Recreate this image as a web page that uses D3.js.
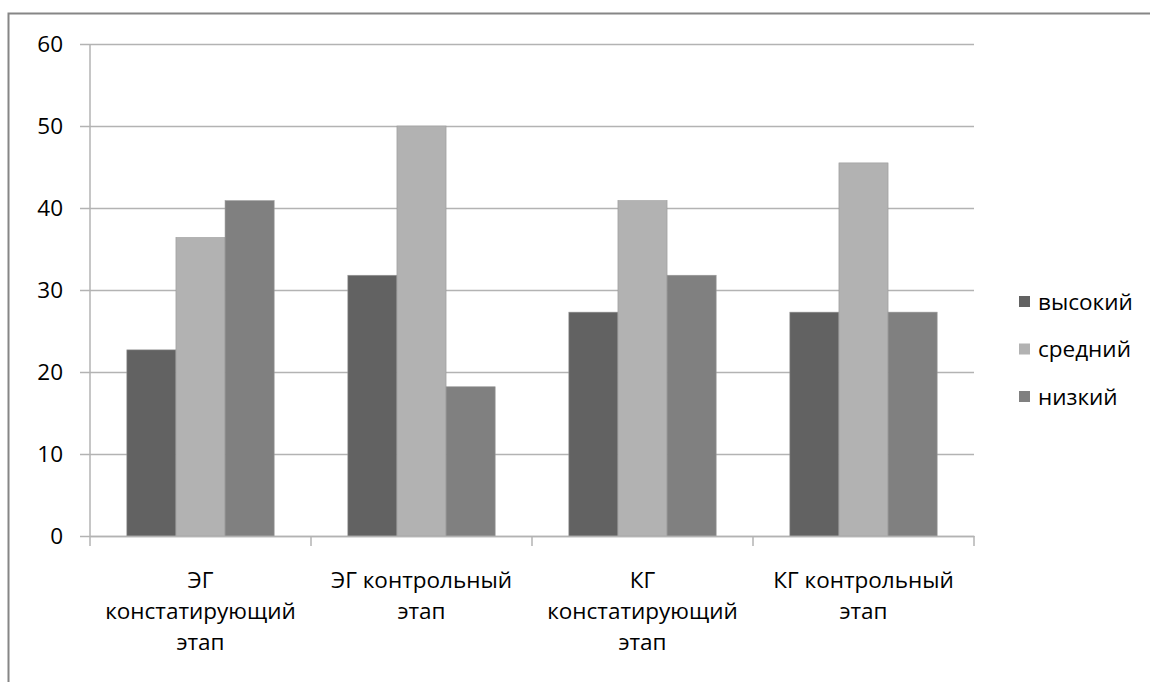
<!DOCTYPE html>
<html>
<head>
<meta charset="utf-8">
<script src="https://cdn.jsdelivr.net/npm/d3@7"></script>
<style>
  body { margin: 0; background: #fff; }
  svg text { font-family: "Open Sans", sans-serif; fill: #000; }
</style>
</head>
<body>
<div id="chart"></div>
<script>
const categories = [
  "ЭГ констатирующий этап",
  "ЭГ контрольный этап",
  "КГ констатирующий этап",
  "КГ контрольный этап"
];
const seriesNames = ["высокий", "средний", "низкий"];
const vysokiy = [22.7, 31.8, 27.3, 27.3];
const sredniy = [36.4, 50, 40.9, 45.5];
const nizkiy = [40.9, 18.2, 31.8, 27.3];
const yTicks = [0, 10, 20, 30, 40, 50, 60];
const colors = ["#626262", "#b2b2b2", "#808080"];

const width = 1150, height = 682;
const plotLeft = 90, plotRight = 974, plotTop = 44, plotBottom = 536;
const fontSize = "22.5px";

const svg = d3.select("#chart").append("svg")
  .attr("width", width)
  .attr("height", height);

// outer chart border (only top and left are visible)
svg.append("path")
  .attr("d", `M8.5,${height} L8.5,13.5 L${width},13.5`)
  .attr("fill", "none")
  .attr("stroke", "#868686")
  .attr("stroke-width", 2);

let x = d3.scaleBand().domain(categories).range([plotLeft, plotRight]);
let xInner = d3.scaleBand().domain(seriesNames)
  .range([0, x.bandwidth()])
  .paddingOuter(0.75);
let y = d3.scaleLinear().domain([0, 60]).range([plotBottom, plotTop]);

// gridlines + y axis
let yAxis = d3.axisLeft(y)
  .tickValues(yTicks)
  .tickSize(-(plotRight - plotLeft))
  .tickSizeOuter(0)
  .tickPadding(27);
let gy = svg.append("g")
  .attr("transform", `translate(${plotLeft},0)`)
  .call(yAxis);
gy.select(".domain").remove();
gy.selectAll(".tick line")
  .attr("stroke", "#b3b3b3")
  .attr("stroke-width", 1.5)
  .attr("x1", -10);
gy.selectAll(".tick text")
  .style("font-size", fontSize)
  .attr("dy", "0.35em");

svg.append("line")
  .attr("x1", plotLeft).attr("x2", plotLeft)
  .attr("y1", plotTop).attr("y2", plotBottom)
  .attr("stroke", "#b3b3b3")
  .attr("stroke-width", 1.5);

// bars
const seriesValues = [vysokiy, sredniy, nizkiy];
const rows = [];
categories.forEach((c, i) => {
  seriesNames.forEach((s, j) => {
    rows.push({ cat: c, series: s, value: seriesValues[j][i], idx: j });
  });
});

svg.append("g")
  .selectAll("rect")
  .data(rows)
  .enter()
  .append("rect")
  .attr("x", (d) => x(d.cat) + xInner(d.series))
  .attr("y", (d) => y(d.value))
  .attr("width", xInner.bandwidth())
  .attr("height", (d) => y(0) - y(d.value))
  .attr("fill", (d) => colors[d.idx])
  .attr("stroke", "#9a9a9a")
  .attr("stroke-width", 0.6);

// x axis
let xAxis = d3.axisBottom(x).tickSize(0).tickFormat("");
let gx = svg.append("g")
  .attr("transform", `translate(0,${plotBottom})`)
  .call(xAxis);
gx.select(".domain")
  .attr("stroke", "#b3b3b3")
  .attr("stroke-width", 1.5);
gx.selectAll(".tick").remove();

const boundaries = categories.map((c) => x(c)).concat([plotRight]);
gx.selectAll("line.sep")
  .data(boundaries)
  .enter()
  .append("line")
  .attr("class", "sep")
  .attr("x1", (d) => d).attr("x2", (d) => d)
  .attr("y1", 0).attr("y2", 10)
  .attr("stroke", "#b3b3b3")
  .attr("stroke-width", 1.5);

// wrapped category labels
function wrapWords(textSel, str, maxW) {
  let words = str.split(" ");
  let lines = [];
  let cur = "";
  words.forEach((w) => {
    let test = cur ? cur + " " + w : w;
    textSel.text(test);
    if (textSel.node().getComputedTextLength() > maxW && cur) {
      lines.push(cur);
      cur = w;
    } else {
      cur = test;
    }
  });
  lines.push(cur);
  textSel.text(null);
  return lines;
}

categories.forEach((c) => {
  let t = svg.append("text")
    .attr("text-anchor", "middle")
    .style("font-size", fontSize);
  let lines = wrapWords(t, c, 205);
  lines.forEach((ln, i) => {
    t.append("tspan")
      .attr("x", x(c) + x.bandwidth() / 2)
      .attr("y", 588 + i * 31)
      .text(ln);
  });
});

// legend
let legend = svg.append("g")
  .selectAll("g")
  .data(seriesNames)
  .enter()
  .append("g")
  .attr("transform", (d, i) => `translate(1019,${302 + i * 47.5})`);
legend.append("rect")
  .attr("x", 0).attr("y", -6)
  .attr("width", 11).attr("height", 11)
  .attr("fill", (d, i) => colors[i]);
legend.append("text")
  .attr("x", 19)
  .attr("dy", "0.35em")
  .style("font-size", fontSize)
  .text((d) => d);
</script>
</body>
</html>
